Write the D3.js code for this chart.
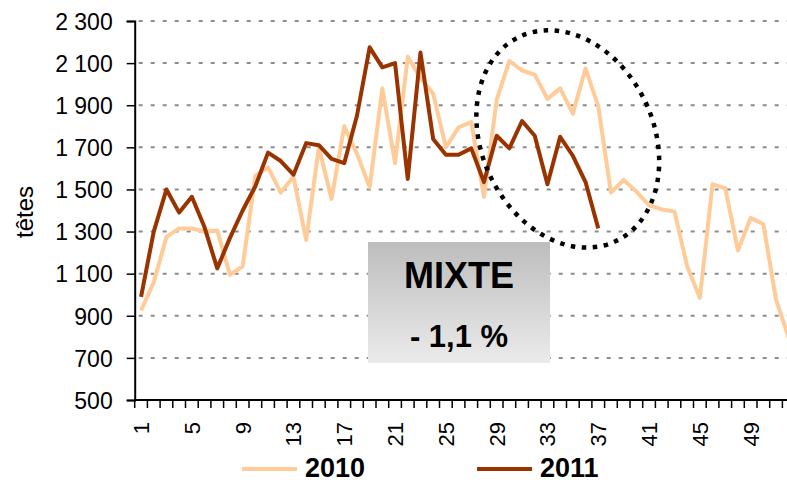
<!DOCTYPE html>
<meta charset="utf-8">
<script src="https://d3js.org/d3.v7.min.js"></script>
<style>
  body { margin: 0; background: #fff; }
  text { font-family: "Liberation Sans", Arial, sans-serif; }
</style>
<body>
<svg width="787" height="483"></svg>
<script>
// semaines (catégories)
var weeks = d3.range(1, 53);
var tickWeeks = [1, 5, 9, 13, 17, 21, 25, 29, 33, 37, 41, 45, 49];
var yTicks = [500, 700, 900, 1100, 1300, 1500, 1700, 1900, 2100, 2300];

// abattages hebdomadaires, têtes
var v2010 = [925, 1060, 1275, 1315, 1315, 1300, 1305, 1095, 1135, 1565,
             1605, 1485, 1560, 1260, 1700, 1455, 1800, 1670, 1510, 1980,
             1625, 2130, 2030, 1955, 1700, 1795, 1820, 1465, 1925, 2110,
             2065, 2045, 1930, 1980, 1860, 2075, 1895, 1485, 1545, 1490,
             1425, 1405, 1395, 1135, 985, 1525, 1505, 1210, 1365, 1335,
             975, 795];
var v2011 = [990, 1300, 1500, 1390, 1465, 1320, 1125, 1270, 1400, 1515,
             1675, 1635, 1570, 1720, 1710, 1645, 1625, 1850, 2175, 2080,
             2100, 1550, 2150, 1740, 1665, 1665, 1695, 1535, 1755, 1695,
             1825, 1755, 1525, 1750, 1660, 1535, 1315];

var svg = d3.select('svg');
var x0 = 134.7, bw = 12.7;

var x = d3.scaleBand().domain(weeks).range([x0, x0 + bw * weeks.length]).padding(0);
var y = d3.scaleLinear().domain([500, 2300]).range([400, 21]);
var fmt = d3.formatLocale({decimal: ',', thousands: ' ', grouping: [3], currency: ['', '']}).format(',');
var cx = function(w){ return x(w) + x.bandwidth() / 2; };

// grille
svg.append('g').selectAll('line')
    .data(yTicks.filter(function(d){ return d > 500; }))
    .enter().append('line')
    .attr('x1', x0 + 4).attr('x2', 800)
    .attr('y1', y).attr('y2', y)
    .attr('stroke', '#8c8c8c').attr('stroke-width', 2)
    .attr('stroke-dasharray', '4,8');

// axe Y
var yAxis = svg.append('g')
    .attr('transform', 'translate(' + x0 + ',0)')
    .call(d3.axisLeft(y).tickValues(yTicks).tickFormat(fmt).tickSize(8).tickPadding(14));
yAxis.select('.domain').attr('stroke', '#000').attr('stroke-width', 2);
yAxis.selectAll('.tick line').attr('stroke', '#000').attr('stroke-width', 1.5);
yAxis.selectAll('text').attr('font-size', 23).attr('fill', '#000').attr('dy', '0.36em');

// axe X
svg.append('line').attr('x1', x0).attr('x2', 800).attr('y1', 400).attr('y2', 400)
    .attr('stroke', '#000').attr('stroke-width', 2);
svg.append('g').selectAll('line').data(weeks).enter().append('line')
    .attr('x1', function(d){ return x(d); }).attr('x2', function(d){ return x(d); })
    .attr('y1', 400).attr('y2', 408)
    .attr('stroke', '#000').attr('stroke-width', 1.5);
svg.append('g').selectAll('text').data(tickWeeks).enter().append('text')
    .attr('transform', function(d){ return 'translate(' + cx(d) + ',422) rotate(-90)'; })
    .attr('text-anchor', 'end').attr('dy', '0.36em')
    .attr('font-size', 22).text(function(d){ return d; });

// titre axe
svg.append('text')
    .attr('transform', 'translate(24,212) rotate(-90)')
    .attr('text-anchor', 'middle').attr('dy', '0.36em')
    .attr('font-size', 24).text('têtes');

// encadré MIXTE
var grad = svg.append('defs').append('linearGradient')
    .attr('id', 'g').attr('x1', 0).attr('y1', 0).attr('x2', 0).attr('y2', 1);
grad.append('stop').attr('offset', '0%').attr('stop-color', '#bdbdbd');
grad.append('stop').attr('offset', '100%').attr('stop-color', '#ebebeb');
svg.append('rect').attr('x', 368).attr('y', 242).attr('width', 182).attr('height', 121)
    .attr('fill', 'url(#g)');
svg.append('text').attr('x', 459).attr('y', 288).attr('text-anchor', 'middle')
    .attr('font-size', 36).attr('font-weight', 'bold').text('MIXTE');
svg.append('text').attr('x', 459).attr('y', 347).attr('text-anchor', 'middle')
    .attr('font-size', 31).attr('font-weight', 'bold').text('- 1,1 %');

// courbes
var line = d3.line().x(function(d, i){ return cx(weeks[i]); }).y(function(d){ return y(d); });
svg.append('path').datum(v2010).attr('d', line)
    .attr('fill', 'none').attr('stroke', '#ffcc99').attr('stroke-width', 4)
    .attr('stroke-linejoin', 'round');
svg.append('path').datum(v2011).attr('d', line)
    .attr('fill', 'none').attr('stroke', '#993300').attr('stroke-width', 4)
    .attr('stroke-linejoin', 'round');

// ellipse pointillée
var ell = {week: 34.6, value: 1740, rx: 86, ry: 113, angle: -25};
svg.append('ellipse')
    .attr('transform', 'translate(' + (x0 + (ell.week - 0.5) * bw) + ',' + y(ell.value) + ') rotate(' + ell.angle + ')')
    .attr('rx', ell.rx).attr('ry', ell.ry)
    .attr('fill', 'none').attr('stroke', '#000').attr('stroke-width', 4.5)
    .attr('stroke-dasharray', '4.5,6.5');

// légende
var legend = [{label: '2010', color: '#ffcc99', x: 242}, {label: '2011', color: '#993300', x: 477}];
var lg = svg.append('g').selectAll('g').data(legend).enter().append('g');
lg.append('line').attr('x1', function(d){ return d.x; }).attr('x2', function(d){ return d.x + 55; })
    .attr('y1', 469).attr('y2', 469).attr('stroke', function(d){ return d.color; }).attr('stroke-width', 4);
lg.append('text').attr('x', function(d){ return d.x + 63; }).attr('y', 477)
    .attr('font-size', 27).attr('font-weight', 'bold').text(function(d){ return d.label; });
</script>
